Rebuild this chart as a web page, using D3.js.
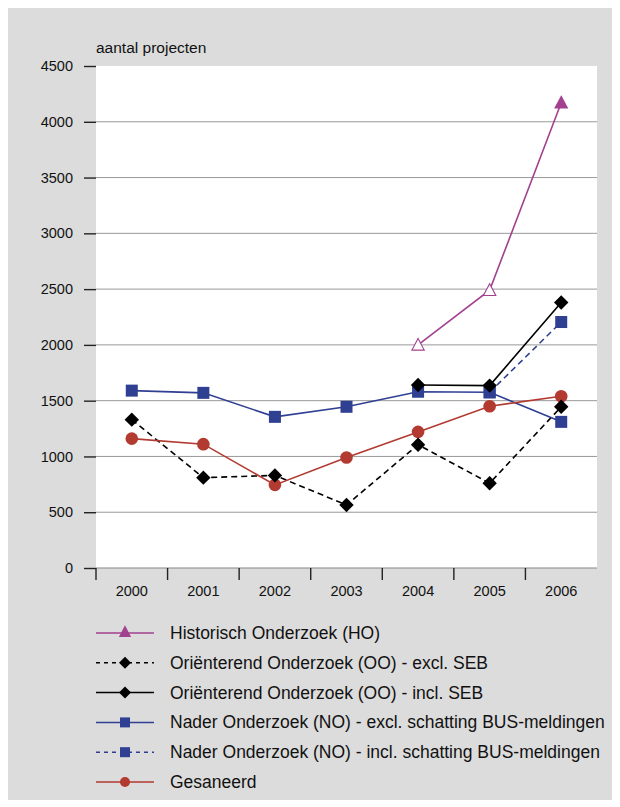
<!DOCTYPE html>
<html><head><meta charset="utf-8">
<script src="https://cdn.jsdelivr.net/npm/d3@7"></script>
<style>body{margin:0;background:#fff}svg{display:block}text{font-family:"Liberation Sans",Arial,sans-serif;fill:#111}</style>
</head><body>
<script>
const years = ["2000","2001","2002","2003","2004","2005","2006"];
const yTicks = [0,500,1000,1500,2000,2500,3000,3500,4000,4500];
const hoYears = ["2004","2005","2006"];
const hoValues = [2000,2490,4170];
const ooExclValues = [1330,810,830,565,1105,760,1445];
const ooInclYears = ["2004","2005","2006"];
const ooInclValues = [1640,1635,2380];
const noExclValues = [1590,1570,1355,1445,1580,1575,1310];
const noInclYears = ["2005","2006"];
const noInclValues = [1575,2205];
const gesValues = [1160,1110,745,990,1220,1450,1540];
const legendLabels = ["Historisch Onderzoek (HO)","Oriënterend Onderzoek (OO) - excl. SEB","Oriënterend Onderzoek (OO) - incl. SEB","Nader Onderzoek (NO) - excl. schatting BUS-meldingen","Nader Onderzoek (NO) - incl. schatting BUS-meldingen","Gesaneerd"];

const W=620,H=807;
const svg=d3.select("body").append("svg").attr("width",W).attr("height",H);
svg.append("rect").attr("x",8).attr("y",8).attr("width",604).attr("height",792).attr("fill","#dcdcdc");
const L=96,R=597,T=66,B=568;
svg.append("rect").attr("x",L).attr("y",T).attr("width",R-L).attr("height",B-T).attr("fill","#fff");
const x=d3.scaleBand().domain(years).range([L,R]);
const y=d3.scaleLinear().domain([0,4500]).range([B,T]);
const cx=d=>x(d)+x.bandwidth()/2;

// gridlines
svg.append("g").selectAll("line").data(yTicks.filter(v=>v>0&&v<4500)).join("line")
  .attr("x1",L).attr("x2",R).attr("y1",d=>y(d)).attr("y2",d=>y(d)).attr("stroke","#999").attr("stroke-width",1);
svg.append("line").attr("x1",L).attr("x2",R).attr("y1",B).attr("y2",B).attr("stroke","#888").attr("stroke-width",1.2);

// y axis
const ya=svg.append("g").attr("transform",`translate(${L},0)`).call(d3.axisLeft(y).tickValues(yTicks).tickSize(12).tickPadding(11).tickFormat(d3.format("d")));
ya.select(".domain").remove();
ya.selectAll("line").attr("stroke","#222").attr("stroke-width",1.4);
ya.selectAll("text").attr("font-size",14.5).attr("font-family","Liberation Sans, Arial, sans-serif").attr("fill","#111");

// x axis
const xa=svg.append("g").attr("transform",`translate(0,${B})`).call(d3.axisBottom(x).tickSize(0).tickPadding(18));
xa.select(".domain").remove();
xa.selectAll("text").attr("font-size",14.5).attr("font-family","Liberation Sans, Arial, sans-serif").attr("fill","#111");
svg.append("g").selectAll("line").data(years).join("line")
  .attr("x1",d=>x(d)).attr("x2",d=>x(d)).attr("y1",B).attr("y2",B+12).attr("stroke","#222").attr("stroke-width",1.4);

svg.append("text").attr("x",96).attr("y",53).attr("font-size",15.5).text("aantal projecten");

const line=d3.line().x(d=>cx(d[0])).y(d=>y(d[1]));
const C={ho:"#a2418f",oo:"#000",no:"#2f3f92",ges:"#b23a30"};
function series(ys,vs,color,dash){
  const data=ys.map((k,i)=>[k,vs[i]]);
  svg.append("path").datum(data).attr("d",line).attr("fill","none").attr("stroke",color).attr("stroke-width",1.6).attr("stroke-dasharray",dash||null);
  return data;
}
function diamond(g,px,py,s){g.append("path").attr("d",`M${px},${py-s}L${px+s},${py}L${px},${py+s}L${px-s},${py}Z`).attr("fill","#000");}
function square(g,px,py,s,c){g.append("rect").attr("x",px-s).attr("y",py-s).attr("width",2*s).attr("height",2*s).attr("fill",c);}
function circ(g,px,py,r,c){g.append("circle").attr("cx",px).attr("cy",py).attr("r",r).attr("fill",c);}
function tri(g,px,py,s,c,open){g.append("path").attr("d",`M${px},${py-s}L${px+s*0.95},${py+s*0.8}L${px-s*0.95},${py+s*0.8}Z`).attr("fill",open?"#fff":c).attr("stroke",c).attr("stroke-width",1.1);}

const d1=series(years,ooExclValues,C.oo,"6,4");
const d2=series(ooInclYears,ooInclValues,C.oo);
const d3s=series(noInclYears,noInclValues,C.no,"6,4");
const d4=series(years,noExclValues,C.no);
const d5=series(years,gesValues,C.ges);
const d6=series(hoYears,hoValues,C.ho);
const mg=svg.append("g");
d4.forEach(d=>square(mg,cx(d[0]),y(d[1]),6,C.no));
d3s.forEach(d=>square(mg,cx(d[0]),y(d[1]),6,C.no));
d5.forEach(d=>circ(mg,cx(d[0]),y(d[1]),6.3,C.ges));
d1.forEach(d=>diamond(mg,cx(d[0]),y(d[1]),7.2));
d2.forEach(d=>diamond(mg,cx(d[0]),y(d[1]),7.2));
d6.forEach((d,i)=>tri(mg,cx(d[0]),y(d[1]),6.5,C.ho,i<2));

// legend
const lg=svg.append("g");
const styles=[[C.ho,null,"tri"],[C.oo,"4,4","dia"],[C.oo,null,"dia"],[C.no,null,"sq"],[C.no,"4,4","sq"],[C.ges,null,"circ"]];
legendLabels.forEach((t,i)=>{
  const yy=633+i*29.8;
  lg.append("line").attr("x1",96).attr("x2",154).attr("y1",yy).attr("y2",yy).attr("stroke",styles[i][0]).attr("stroke-width",1.5).attr("stroke-dasharray",styles[i][1]);
  const m=styles[i][2];
  if(m==="tri")tri(lg,125,yy-1,5.5,C.ho,false);
  if(m==="dia")diamond(lg,125,yy,6);
  if(m==="sq")square(lg,125,yy,5,C.no);
  if(m==="circ")circ(lg,125,yy,5,C.ges);
  lg.append("text").attr("x",170).attr("y",yy+6).attr("font-size",17.5).text(t);
});
</script>
</body></html>
